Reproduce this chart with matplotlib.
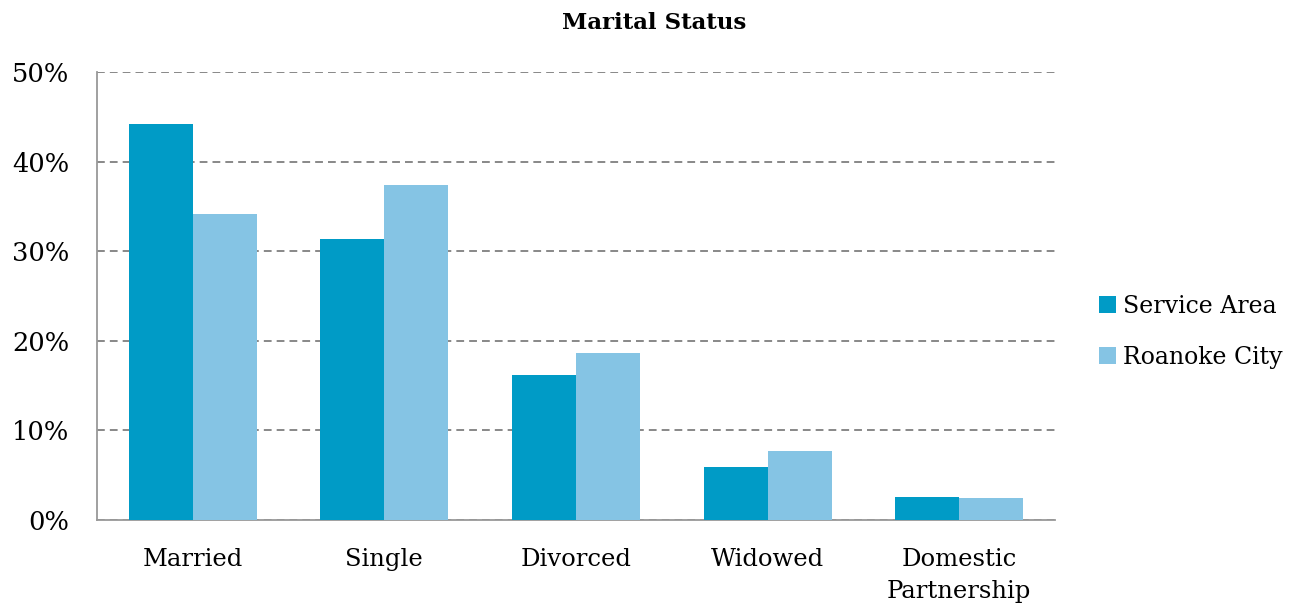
import matplotlib
matplotlib.use("Agg")
import matplotlib.pyplot as plt
import numpy as np

categories = ["Married", "Single", "Divorced", "Widowed", "Domestic\nPartnership"]
service_area = [44.2, 31.4, 16.2, 5.9, 2.6]
roanoke_city = [34.1, 37.4, 18.6, 7.7, 2.5]
yticks = [0, 10, 20, 30, 40, 50]

plt.rcParams['font.family'] = ['DejaVu Serif']

fig = plt.figure(figsize=(13.05, 6.09), dpi=100)
ax = fig.add_axes([0.0743, 0.1461, 0.7341, 0.7357])

x = np.arange(len(categories))
w = 0.334
ax.bar(x - w / 2, service_area, w, color="#009bc6", label="Service Area", zorder=3)
ax.bar(x + w / 2, roanoke_city, w, color="#85c4e4", label="Roanoke City", zorder=3)

ax.set_xlim(-0.5, len(categories) - 0.5)
ax.set_ylim(0, 50)
ax.set_yticks(yticks)
ax.set_yticklabels([f"{t}%" for t in yticks], fontsize=18.5)
ax.set_xticks(x)
ax.set_xticklabels(categories, fontsize=17.5, linespacing=1.5)
ax.tick_params(length=0)
ax.tick_params(axis='y', pad=20)
ax.tick_params(axis='x', pad=20)

ax.grid(axis='y', color='#888888', linestyle=(0, (4, 2.6)), linewidth=1.4, zorder=0)
for s in ['top', 'right']:
    ax.spines[s].set_visible(False)
for s in ['left', 'bottom']:
    ax.spines[s].set_color('#999999')
    ax.spines[s].set_linewidth(1.3)

fig.text(0.501, 0.963, "Marital Status", fontsize=16.5, fontweight='bold',
         ha='center', va='center')

ax.legend(loc='center left', bbox_to_anchor=(1.024, 0.42), frameon=False,
          fontsize=17, handlelength=0.7, handleheight=0.7, handletextpad=0.3,
          labelspacing=1.2)

fig.savefig("out.png", dpi=100)
